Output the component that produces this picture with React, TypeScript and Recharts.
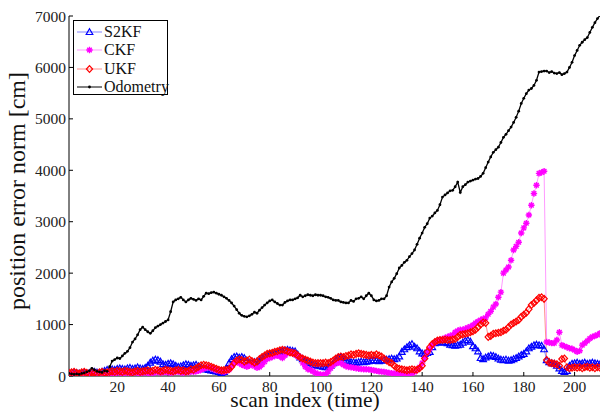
import { LineChart, Line, XAxis, YAxis, Label } from 'recharts'

// scan index 1..210
const SCAN = Array.from({ length: 210 }, (_, i) => i + 1)

const S2KF = [
  50, 60, 70, 60, 50, 60, 70, 50, 60, 70,
  80, 70, 60, 80, 100, 120, 110, 130, 120, 140,
  150, 140, 130, 150, 160, 140, 150, 170, 150, 140,
  160, 200, 260, 300, 320, 310, 280, 230, 220, 240,
  250, 230, 200, 180, 190, 210, 230, 220, 200, 210,
  220, 190, 170, 150, 130, 120, 110, 100, 90, 80,
  60, 80, 150, 250, 330, 370, 380, 360, 370, 350,
  300, 260, 250, 270, 280, 300, 350, 380, 400, 420,
  430, 440, 450, 470, 480, 500, 510, 500, 490, 480,
  420, 360, 330, 300, 280, 250, 220, 210, 200, 190,
  180, 170, 170, 200, 250, 320, 360, 370, 350, 320,
  290, 270, 270, 260, 270, 280, 270, 280, 290, 300,
  310, 300, 290, 300, 310, 320, 330, 340, 330, 340,
  380, 470, 520, 560, 600, 620, 570, 540, 480, 440,
  430, 450, 470, 560, 640, 660, 670, 650, 660, 640,
  610, 600, 590, 600, 610, 650, 690, 700, 670, 580,
  540, 480, 350, 330, 360, 380, 400, 390, 370, 340,
  320, 310, 320, 300, 310, 330, 350, 380, 410, 430,
  480, 540, 570, 600, 610, 600, 590, 520, 310, 270,
  250, 240, 200, 150, 100, 80, 100, 200, 240, 250,
  260, 240, 250, 260, 240, 250, 260, 250, 240, 230,
]

const CKF = [
  60, 50, 40, 30, 50, 40, 20, 30, 50, 40,
  30, 40, 50, 30, 40, 50, 60, 40, 50, 70,
  60, 50, 60, 70, 50, 60, 70, 60, 50, 60,
  70, 60, 50, 60, 70, 80, 60, 70, 80, 70,
  60, 70, 80, 90, 70, 60, 80, 70, 90, 80,
  90, 100, 120, 140, 160, 170, 150, 130, 110, 100,
  90, 80, 100, 120, 200, 260, 280, 250, 220, 200,
  180, 200, 230, 190, 160, 175, 220, 280, 330, 350,
  370, 390, 400, 380, 350, 400, 440, 470, 440, 420,
  380, 370, 250, 180, 130, 120, 90, 60, 40, 30,
  20, 40, 80, 150, 210, 250, 260, 250, 220, 190,
  175, 170, 160, 150, 140, 135, 130, 130, 125, 120,
  110, 100, 90, 85, 80, 70, 60, 55, 50, 50,
  50, 45, 40, 40, 40, 50, 80, 120, 170, 250,
  350, 450, 530, 600, 650, 680, 700, 720, 740, 760,
  780, 800, 850, 880, 900, 900, 920, 940, 960, 990,
  1030, 1060, 1090, 1110, 1130, 1200, 1260, 1340, 1400, 1530,
  1630, 2000, 2060, 2120, 2250, 2450, 2520, 2600, 2780, 2880,
  2970, 3130, 3320, 3550, 3710, 3940, 3960, 3980, 660, 650,
  640, 640, 700, 850, 600, 580, 560, 540, 530, 500,
  470, 490, 600, 640, 680, 730, 760, 780, 800, 830,
]

const UKF = [
  60, 70, 80, 60, 50, 70, 80, 60, 50, 70,
  60, 50, 70, 80, 60, 70, 80, 90, 80, 100,
  90, 80, 100, 90, 80, 70, 90, 100, 80, 90,
  100, 110, 90, 100, 120, 110, 90, 100, 120, 110,
  100, 90, 110, 120, 100, 110, 90, 100, 130, 120,
  150, 180, 210, 220, 210, 200, 180, 160, 140, 120,
  110, 115, 120, 130, 180, 250, 300, 320, 310, 280,
  300, 320, 290, 260, 280, 330, 370, 400, 430, 440,
  450, 470, 480, 500, 510, 500, 480, 460, 450, 440,
  400, 360, 340, 320, 300, 280, 260, 250, 250, 250,
  250, 260, 250, 270, 300, 340, 370, 380, 370, 390,
  400, 420, 410, 430, 440, 430, 420, 410, 400, 410,
  400, 420, 400, 380, 340, 300, 270, 250, 200, 160,
  140, 130, 120, 110, 120, 130, 120, 120, 150, 200,
  340, 470, 560, 620, 660, 690, 700, 700, 710, 700,
  700, 710, 720, 760, 800, 810, 820, 830, 850, 870,
  900, 950, 1000, 1040, 1030, 760, 780, 820, 830, 840,
  850, 880, 900, 950, 1000, 1030, 1060, 1090, 1150, 1190,
  1230, 1300, 1380, 1420, 1470, 1520, 1530, 1500, 310, 260,
  250, 240, 230, 200, 330, 340, 170, 150, 160, 170,
  160, 170, 150, 170, 180, 160, 170, 150, 170, 160,
]

const ODOMETRY = [
  50, 40, 30, 40, 30, 50, 60, 80, 100, 150,
  120, 90, 80, 70, 100, 90, 180, 290, 320, 350,
  340, 390, 440, 480, 550, 660, 720, 800, 900, 950,
  900, 860, 830, 880, 940, 970, 1000, 1030, 1060, 1090,
  1250, 1440, 1480, 1500, 1530, 1480, 1440, 1480, 1510, 1490,
  1470, 1500, 1480, 1550, 1610, 1600, 1620, 1630, 1610, 1590,
  1570, 1540, 1510, 1470, 1420, 1360, 1290, 1220, 1180, 1160,
  1150, 1170, 1200, 1240, 1220, 1280, 1330, 1380, 1420, 1460,
  1480, 1440, 1410, 1380, 1380, 1430, 1460, 1480, 1480, 1500,
  1520, 1570, 1540, 1560, 1580, 1570, 1560, 1580, 1570, 1570,
  1560, 1540, 1530, 1510, 1480, 1470, 1470, 1440, 1430, 1420,
  1420, 1470, 1450, 1500, 1510, 1540, 1500, 1560, 1610, 1560,
  1480, 1460, 1470, 1500, 1500, 1560, 1730, 1830, 1900, 1990,
  2100, 2150, 2210, 2250, 2320, 2380, 2450, 2560, 2680, 2780,
  2890, 2960, 3070, 3110, 3170, 3220, 3330, 3480, 3520, 3560,
  3600, 3610, 3680, 3770, 3570, 3680, 3720, 3770, 3790, 3810,
  3830, 3840, 3880, 3940, 4050, 4160, 4260, 4350, 4400, 4450,
  4540, 4640, 4700, 4770, 4840, 4930, 5030, 5150, 5300, 5400,
  5490, 5560, 5590, 5650, 5750, 5910, 5920, 5930, 5930, 5900,
  5920, 5890, 5880, 5900, 5860, 5880, 5910, 6000, 6100, 6230,
  6330, 6430, 6490, 6540, 6580, 6680, 6780, 6870, 6950, 7010,
]

const X_TICKS = [20, 40, 60, 80, 100, 120, 140, 160, 180, 200]
const Y_TICKS = [0, 1000, 2000, 3000, 4000, 5000, 6000, 7000]

const FONT = '"Times New Roman", "Liberation Serif", serif'

const data = SCAN.map((scan, i) => ({
  scan,
  s2kf: S2KF[i],
  ckf: CKF[i],
  ukf: UKF[i],
  odo: ODOMETRY[i],
}))

type Mk = 'tri' | 'star' | 'dia' | 'dot'

function Marker({ cx, cy, kind, color }: { cx: number; cy: number; kind: Mk; color: string }) {
  if (cx == null || cy == null) return null
  if (kind === 'tri') {
    return <path d={`M${cx},${cy - 3.3}L${cx + 3.3},${cy + 2.5}L${cx - 3.3},${cy + 2.5}Z`} fill='none' stroke={color} strokeWidth={1.2} />
  }
  if (kind === 'dia') {
    return <path d={`M${cx},${cy - 3.4}L${cx + 3.1},${cy}L${cx},${cy + 3.4}L${cx - 3.1},${cy}Z`} fill='none' stroke={color} strokeWidth={1.2} />
  }
  if (kind === 'star') {
    const r = 3.2
    const d = 2.3
    return (
      <path
        d={`M${cx - r},${cy}L${cx + r},${cy}M${cx},${cy - r}L${cx},${cy + r}M${cx - d},${cy - d}L${cx + d},${cy + d}M${cx - d},${cy + d}L${cx + d},${cy - d}`}
        stroke={color}
        strokeWidth={1.4}
      />
    )
  }
  return <circle cx={cx} cy={cy} r={1.4} fill={color} />
}

const SERIES: { key: string; name: string; color: string; line: string; kind: Mk; width: number }[] = [
  { key: 's2kf', name: 'S2KF', color: '#0000ff', line: '#3333ff', kind: 'tri', width: 0.6 },
  { key: 'ckf', name: 'CKF', color: '#ff00ff', line: '#ff55ff', kind: 'star', width: 0.6 },
  { key: 'ukf', name: 'UKF', color: '#ff0000', line: '#ff4444', kind: 'dia', width: 0.6 },
  { key: 'odo', name: 'Odometry', color: '#000000', line: '#000000', kind: 'dot', width: 1.3 },
]

const XTick = (p: any) => (
  <text x={p.x} y={p.y + 11.5} textAnchor='middle' fontFamily={FONT} fontSize={15.5} fill='#222'>
    {p.payload.value}
  </text>
)

const YTick = (p: any) => (
  <text x={p.x} y={p.y + 5.5} textAnchor='end' fontFamily={FONT} fontSize={15.5} fill='#222'>
    {p.payload.value}
  </text>
)

function LegendBox() {
  return (
    <div
      style={{
        position: 'absolute',
        left: 73,
        top: 20,
        width: 95,
        height: 75,
        border: '1px solid #000',
        background: '#fff',
        boxSizing: 'border-box',
        fontFamily: FONT,
        fontSize: 16,
        color: '#111',
      }}
    >
      {SERIES.map((s, i) => (
        <div key={s.key} style={{ position: 'absolute', left: 3, top: 2 + i * 18.3, height: 18, display: 'flex', alignItems: 'center' }}>
          <svg width={26} height={18}>
            <line x1={0} y1={9} x2={25} y2={9} stroke={s.line} strokeWidth={s.key === 'odo' ? 1 : 0.6} />
            <Marker cx={12.5} cy={9} kind={s.kind} color={s.color} />
          </svg>
          <span style={{ marginLeft: 1, lineHeight: '18px', fontFamily: FONT }}>{s.name}</span>
        </div>
      ))}
    </div>
  )
}

export default function App() {
  return (
    <div style={{ position: 'absolute', left: 0, top: 0, width: 603, height: 412, background: '#fff', fontFamily: FONT }}>
      <LineChart width={603} height={412} data={data} margin={{ top: 16, right: 3, bottom: 0, left: 0 }}>
        <XAxis
          dataKey='scan'
          type='number'
          domain={[1, 210]}
          ticks={X_TICKS}
          allowDataOverflow
          stroke='#000'
          tickSize={-4}
          tickMargin={8}
          tick={XTick}
          height={36}
        >
          <Label
            content={() => (
              <text x={305} y={407} textAnchor='middle' fontFamily={FONT} fontSize={21.5} fill='#111'>
                scan index (time)
              </text>
            )}
          />
        </XAxis>
        <YAxis
          type='number'
          domain={[0, 7000]}
          ticks={Y_TICKS}
          allowDataOverflow
          stroke='#000'
          tickSize={-4}
          tickMargin={7}
          width={69}
          tick={YTick}
        >
          <Label
            content={() => (
              <text transform='translate(25,191) rotate(-90)' x={0} y={0} textAnchor='middle' fontFamily={FONT} fontSize={24} fill='#111'>
                position error norm [cm]
              </text>
            )}
          />
        </YAxis>
        {SERIES.map((s) => (
          <Line
            key={s.key}
            dataKey={s.key}
            name={s.name}
            type='linear'
            stroke={s.line}
            strokeWidth={s.width}
            isAnimationActive={false}
            dot={(p: any) => <Marker key={`${s.key}-${p.index}`} cx={p.cx} cy={p.cy} kind={s.kind} color={s.color} />}
            activeDot={false}
          />
        ))}
      </LineChart>
      <LegendBox />
    </div>
  )
}
